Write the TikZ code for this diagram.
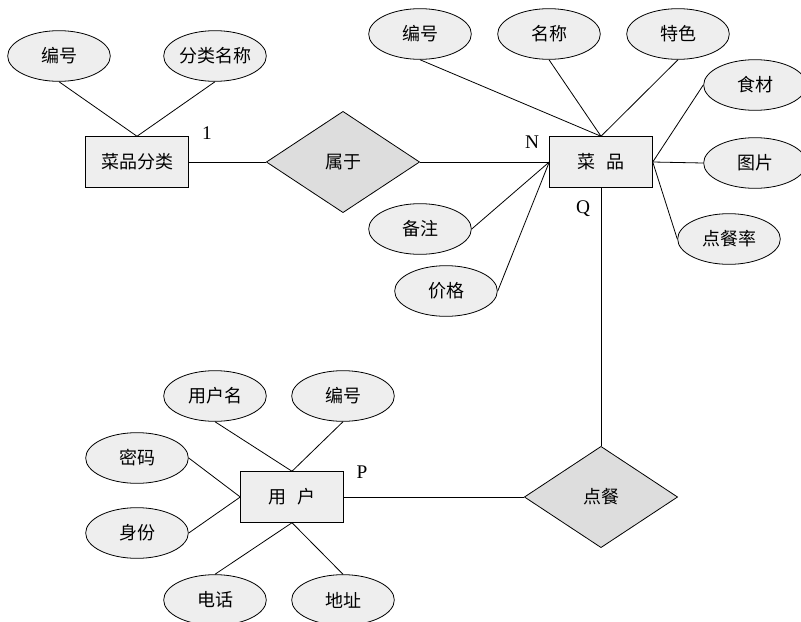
\documentclass[tikz,border=0pt]{standalone}
\usepackage{fontspec}
\setmainfont{Liberation Serif}
\newfontfamily\cjk{Noto Sans CJK SC}
\usetikzlibrary{shapes.geometric}

\begin{document}
\begin{tikzpicture}[x=0.75pt,y=-0.75pt]
\tikzstyle{every node}+=[font=\cjk\fontsize{13.5}{15}\selectfont]
\tikzstyle{attr}=[draw=black,ellipse,fill=gray!13,minimum width=77pt,minimum height=38pt,inner sep=0pt]
\tikzstyle{ent}=[draw=black,rectangle,fill=gray!13,minimum width=77pt,minimum height=38pt,inner sep=0pt]
\tikzstyle{rel}=[draw=black,diamond,fill=gray!27,minimum width=115pt,minimum height=76pt,inner sep=0pt]
\tikzstyle{card}=[font=\fontsize{14.5}{16}\selectfont]
\tikzstyle{every path}+=[line width=0.6pt]
\useasboundingbox (0,0) rectangle (801,622);
\node [ent] (fenlei) at (137,162) {菜品分类};
\node [attr] (flbh) at (59,56) {编号};
\node [attr] (flmc) at (215,56) {分类名称};
\node [rel] (shuyu) at (343,162) {属于};
\node [ent] (caipin) at (601,162) {菜\hspace{0.6em}品};
\node [attr] (cpbh) at (420,34) {编号};
\node [attr] (mingcheng) at (549,34) {名称};
\node [attr] (tese) at (678,34) {特色};
\node [attr] (shicai) at (755,85) {食材};
\node [attr] (tupian) at (755,163) {图片};
\node [attr] (dcl) at (729,239) {点餐率};
\node [attr] (beizhu) at (420,229) {备注};
\node [attr] (jiage) at (446,291) {价格};
\node [rel] (diancan) at (601,497) {点餐};
\node [ent] (yonghu) at (292,497) {用\hspace{0.6em}户};
\node [attr] (yhm) at (215,396) {用户名};
\node [attr] (yhbh) at (343,396) {编号};
\node [attr] (mima) at (137,458) {密码};
\node [attr] (shenfen) at (137,533) {身份};
\node [attr] (dianhua) at (215,600) {电话};
\node [attr] (dizhi) at (343,600) {地址};
\node [card] (c1) at (207,133) {1};
\node [card] (cN) at (532,142) {N};
\node [card] (cQ) at (583,209) {Q};
\node [card] (cP) at (362,472) {P};
\draw [black] (flbh.south) -- (fenlei.north);
\draw [black] (flmc.south) -- (fenlei.north);
\draw [black] (fenlei.east) -- (shuyu.west);
\draw [black] (shuyu.east) -- (caipin.west);
\draw [black] (cpbh.south) -- (caipin.north);
\draw [black] (mingcheng.south) -- (caipin.north);
\draw [black] (tese.south) -- (caipin.north);
\draw [black] (caipin.east) -- (shicai.west);
\draw [black] (caipin.east) -- (tupian.west);
\draw [black] (caipin.east) -- (dcl.west);
\draw [black] (caipin.west) -- (beizhu.east);
\draw [black] (caipin.west) -- (jiage.east);
\draw [black] (caipin.south) -- (diancan.north);
\draw [black] (yonghu.east) -- (diancan.west);
\draw [black] (yhm.south) -- (yonghu.north);
\draw [black] (yhbh.south) -- (yonghu.north);
\draw [black] (mima.east) -- (yonghu.west);
\draw [black] (shenfen.east) -- (yonghu.west);
\draw [black] (dianhua.north) -- (yonghu.south);
\draw [black] (dizhi.north) -- (yonghu.south);
\end{tikzpicture}
\end{document}
